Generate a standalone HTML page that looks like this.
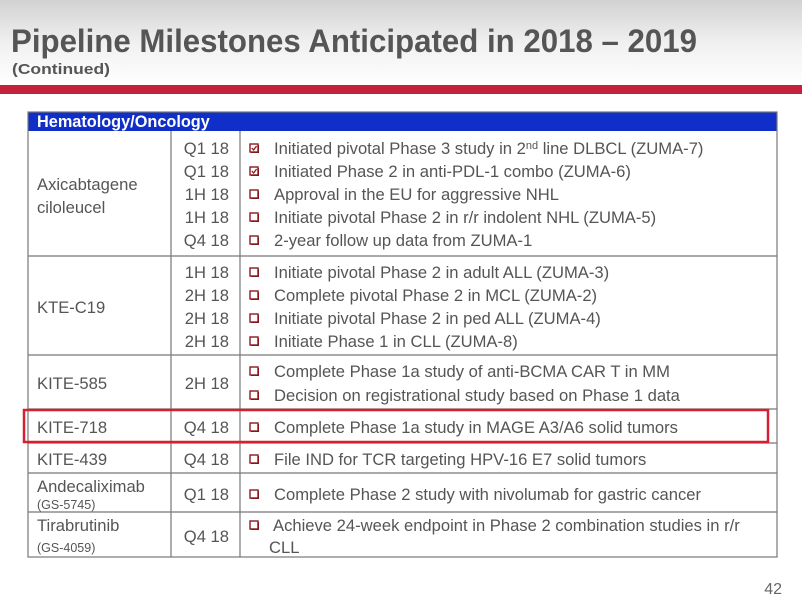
<!DOCTYPE html>
<html><head><meta charset="utf-8"><style>
html,body{margin:0;padding:0;background:#fff;}
svg{display:block;font-family:"Liberation Sans",Arial,sans-serif;}
</style></head><body>
<svg width="802" height="601" viewBox="0 0 802 601" xmlns="http://www.w3.org/2000/svg">
<defs>
<linearGradient id="hg" x1="0" y1="0" x2="0" y2="1">
<stop offset="0" stop-color="#d2d2d2"/><stop offset="0.5" stop-color="#f0f0f0"/><stop offset="1" stop-color="#ffffff"/>
</linearGradient>
<g id="cb"><rect x="1" y="1" width="8" height="8" fill="#7a0f14"/><rect x="0" y="0" width="8" height="8" fill="#fff" stroke="#8b1a1f" stroke-width="1.4"/></g>
<g id="cbc"><use href="#cb"/><path d="M1.8 4 L3.6 6 L6.6 2" fill="none" stroke="#8b1a1f" stroke-width="1.3"/></g>
</defs>
<rect x="0" y="0" width="802" height="85" fill="url(#hg)"/>
<rect x="0" y="85" width="802" height="9" fill="#c4223c"/>
<text x="11" y="52" font-size="32" font-weight="bold" fill="#555" textLength="686" lengthAdjust="spacingAndGlyphs">Pipeline Milestones Anticipated in 2018 – 2019</text>
<text x="12" y="74" font-size="15" font-weight="bold" fill="#555" textLength="98" lengthAdjust="spacingAndGlyphs">(Continued)</text>

<rect x="28" y="112" width="749" height="19" fill="#0f2fc8"/>
<text x="37" y="127" font-size="16.3" font-weight="bold" fill="#fff">Hematology/Oncology</text>

<g stroke="#777" stroke-width="1.2" fill="none">
<rect x="28" y="112" width="749" height="445"/>
<line x1="171" y1="131" x2="171" y2="557"/>
<line x1="240" y1="131" x2="240" y2="557"/>
<line x1="28" y1="256" x2="777" y2="256"/>
<line x1="28" y1="355" x2="777" y2="355"/>
<line x1="28" y1="409" x2="777" y2="409"/>
<line x1="28" y1="443" x2="777" y2="443"/>
<line x1="28" y1="473" x2="777" y2="473"/>
<line x1="28" y1="512" x2="777" y2="512"/>
</g>

<g font-size="16.6" fill="#555">
<text x="37" y="190">Axicabtagene</text>
<text x="37" y="213">ciloleucel</text>
<text x="37" y="313">KTE-C19</text>
<text x="37" y="389">KITE-585</text>
<text x="37" y="433">KITE-718</text>
<text x="37" y="465">KITE-439</text>
<text x="37" y="492">Andecaliximab</text>
<text x="37" y="531">Tirabrutinib</text>
</g>
<g font-size="12.5" fill="#555">
<text x="37" y="509">(GS-5745)</text>
<text x="37" y="552">(GS-4059)</text>
</g>

<g font-size="16.6" fill="#555" text-anchor="end">
<text x="229" y="154">Q1 18</text><text x="229" y="177">Q1 18</text><text x="229" y="200">1H 18</text><text x="229" y="223">1H 18</text><text x="229" y="246">Q4 18</text>
<text x="229" y="278">1H 18</text><text x="229" y="301">2H 18</text><text x="229" y="324">2H 18</text><text x="229" y="347">2H 18</text>
<text x="229" y="389">2H 18</text>
<text x="229" y="433">Q4 18</text>
<text x="229" y="465">Q4 18</text>
<text x="229" y="500">Q1 18</text>
<text x="229" y="542">Q4 18</text>
</g>

<use href="#cbc" x="250" y="144"/><use href="#cbc" x="250" y="167"/>
<use href="#cb" x="250" y="190"/><use href="#cb" x="250" y="213"/><use href="#cb" x="250" y="236"/>
<use href="#cb" x="250" y="268"/><use href="#cb" x="250" y="291"/><use href="#cb" x="250" y="314"/><use href="#cb" x="250" y="337"/>
<use href="#cb" x="250" y="367"/><use href="#cb" x="250" y="391"/>
<use href="#cb" x="250" y="423"/>
<use href="#cb" x="250" y="455"/>
<use href="#cb" x="250" y="490"/>
<use href="#cb" x="250" y="521"/>

<g font-size="16.6" fill="#555">
<text x="274" y="154">Initiated pivotal Phase 3 study in 2<tspan font-size="11" dy="-5">nd</tspan><tspan dy="5"> line DLBCL (ZUMA-7)</tspan></text>
<text x="274" y="177">Initiated Phase 2 in anti-PDL-1 combo (ZUMA-6)</text>
<text x="274" y="200">Approval in the EU for aggressive NHL</text>
<text x="274" y="223">Initiate pivotal Phase 2 in r/r indolent NHL (ZUMA-5)</text>
<text x="274" y="246">2-year follow up data from ZUMA-1</text>
<text x="274" y="278">Initiate pivotal Phase 2 in adult ALL (ZUMA-3)</text>
<text x="274" y="301">Complete pivotal Phase 2 in MCL (ZUMA-2)</text>
<text x="274" y="324">Initiate pivotal Phase 2 in ped ALL (ZUMA-4)</text>
<text x="274" y="347">Initiate Phase 1 in CLL (ZUMA-8)</text>
<text x="274" y="377">Complete Phase 1a study of anti-BCMA CAR T in MM</text>
<text x="274" y="401">Decision on registrational study based on Phase 1 data</text>
<text x="274" y="433">Complete Phase 1a study in MAGE A3/A6 solid tumors</text>
<text x="274" y="465">File IND for TCR targeting HPV-16 E7 solid tumors</text>
<text x="274" y="500">Complete Phase 2 study with nivolumab for gastric cancer</text>
<text x="273" y="531">Achieve 24-week endpoint in Phase 2 combination studies in r/r</text>
<text x="269" y="553">CLL</text>
</g>

<rect x="24" y="410" width="744" height="32" fill="none" stroke="#d42030" stroke-width="2.5"/>

<text x="782" y="594" font-size="16" fill="#666" text-anchor="end">42</text>
</svg>
</body></html>
